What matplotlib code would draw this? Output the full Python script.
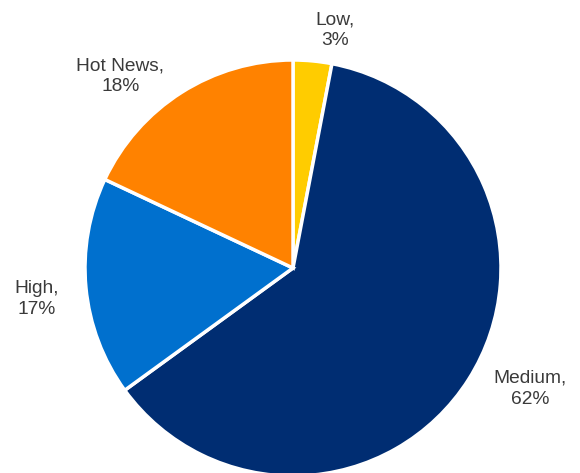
import matplotlib.pyplot as plt
import numpy as np

# data
categories = ['Low', 'Medium', 'High', 'Hot News']
shares = [3, 62, 17, 18]
colors = ['#FFCC00', '#002D72', '#0070CE', '#FF8200']

# label offsets from pie centre: (radius factor, angle in degrees)
label_pos = [(1.16, 80), (1.28, -27), (1.24, 187), (1.24, 132)]

fig = plt.figure(figsize=(5.8, 4.73), dpi=100)
ax = fig.add_axes([0, 0, 1, 1])

cx, cy, r = 293, 205, 208
wedges, _ = ax.pie(shares, colors=colors, startangle=90, counterclock=False,
                   center=(cx, cy), radius=r, frame=True,
                   wedgeprops=dict(edgecolor='white', linewidth=2.5))
ax.set_xlim(0, 580)
ax.set_ylim(0, 473)
ax.axis('off')

for name, val, (f, ang) in zip(categories, shares, label_pos):
    a = np.deg2rad(ang)
    ax.text(cx + f * r * np.cos(a), cy + f * r * np.sin(a), f'{name},\n{val}%',
            ha='center', va='center', multialignment='center',
            fontsize=13.8, color='#3a3a3a', family='Liberation Sans',
            linespacing=1.3)

fig.savefig('out.png', dpi=100)
